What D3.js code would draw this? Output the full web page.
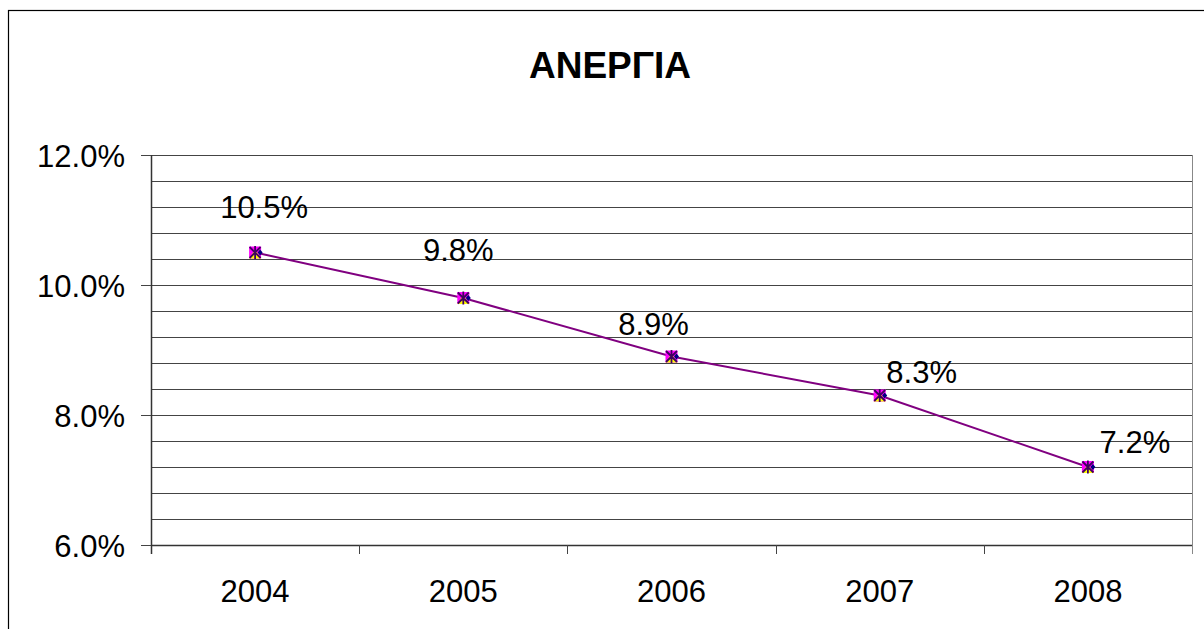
<!DOCTYPE html>
<html>
<head>
<meta charset="utf-8">
<script src="https://cdn.jsdelivr.net/npm/d3@7"></script>
<style>
  body { margin: 0; background: #fff; }
  svg { display: block; font-family: "Liberation Sans", Arial, sans-serif; }
</style>
</head>
<body>
<svg id="chart" width="1204" height="629"></svg>
<script>
// data
var years = ["2004", "2005", "2006", "2007", "2008"];
var unemployment = [10.5, 9.8, 8.9, 8.3, 7.2];
var yTicks = [6, 8, 10, 12];
var chartTitle = "ΑΝΕΡΓΙΑ";

// hand placed data labels (dx, dy from the point), as in the original
var labelOffsets = [[9, -35], [-5, -37], [-18, -22], [42, -13], [47, -14]];

var svg = d3.select("#chart");
var margin = {top: 155, right: 12, bottom: 84, left: 151};
var width = 1204 - margin.left - margin.right;
var height = 629 - margin.top - margin.bottom;

// outer chart border (runs off the right and bottom of the picture)
svg.append("rect")
    .attr("x", 8.5).attr("y", 10.5)
    .attr("width", 1400).attr("height", 800)
    .attr("fill", "none").attr("stroke", "#000").attr("stroke-width", 1.2);

svg.append("text")
    .attr("x", 610).attr("y", 78)
    .attr("text-anchor", "middle")
    .attr("font-size", 37).attr("font-weight", "bold")
    .text(chartTitle);

var g = svg.append("g").attr("transform", "translate(" + margin.left + "," + margin.top + ")");

var x = d3.scaleBand().domain(years).range([0, width]);
var y = d3.scaleLinear().domain([6, 12]).range([height, 0]);

// gridlines every 0.4%
var gridVals = d3.range(0, 16).map(function(i){ return 6 + i * 0.4; });
g.selectAll(".grid")
    .data(gridVals)
    .enter().append("line")
    .attr("class", "grid")
    .attr("x1", 0).attr("x2", width)
    .attr("y1", function(d){ return Math.round(y(d)) + 0.5; })
    .attr("y2", function(d){ return Math.round(y(d)) + 0.5; })
    .attr("stroke", "#444").attr("stroke-width", 1);

// right edge of plot area
g.append("line")
    .attr("x1", width + 0.5).attr("x2", width + 0.5)
    .attr("y1", 0).attr("y2", height + 9)
    .attr("stroke", "#888");

// y axis
var yAxis = g.append("g")
    .call(d3.axisLeft(y)
        .tickValues(yTicks)
        .tickSize(10)
        .tickPadding(16)
        .tickFormat(function(d){ return d3.format(".1f")(d) + "%"; }));
yAxis.select(".domain").attr("d", "M0.5,0V" + (height + 9)).attr("stroke", "#333").attr("stroke-width", 1.5);
yAxis.selectAll(".tick line").attr("stroke", "#444");
yAxis.selectAll("text").attr("font-size", 31).attr("fill", "#000")
    .attr("font-family", "Liberation Sans, Arial, sans-serif").attr("dy", "0.36em");

// x axis, ticks between categories
var xAxis = g.append("g").attr("transform", "translate(0," + height + ")");
xAxis.append("line")
    .attr("x1", 0).attr("x2", width)
    .attr("y1", 0.5).attr("y2", 0.5)
    .attr("stroke", "#333").attr("stroke-width", 1.5);
xAxis.selectAll(".xtick")
    .data(years.slice(1))
    .enter().append("line")
    .attr("x1", function(d){ return Math.round(x(d)) + 0.5; })
    .attr("x2", function(d){ return Math.round(x(d)) + 0.5; })
    .attr("y1", 0).attr("y2", 9)
    .attr("stroke", "#444");
xAxis.selectAll(".xlabel")
    .data(years)
    .enter().append("text")
    .attr("x", function(d){ return x(d) + x.bandwidth() / 2; })
    .attr("y", 57)
    .attr("text-anchor", "middle")
    .attr("font-size", 31)
    .text(function(d){ return d; });

// series line
var pts = years.map(function(yr, i){ return {year: yr, value: unemployment[i]}; });
var line = d3.line()
    .x(function(d){ return x(d.year) + x.bandwidth() / 2; })
    .y(function(d){ return y(d.value); });

g.append("path")
    .datum(pts)
    .attr("d", line)
    .attr("fill", "none")
    .attr("stroke", "#800080")
    .attr("stroke-width", 2);

// overlapping markers: magenta square, yellow triangle, navy diamond, purple star
var mk = g.selectAll(".mk")
    .data(pts)
    .enter().append("g")
    .attr("transform", function(d){ return "translate(" + (x(d.year) + x.bandwidth() / 2) + "," + y(d.value) + ")"; });
mk.append("rect").attr("x", -6).attr("y", -6).attr("width", 12).attr("height", 12).attr("fill", "#ff00ff");
mk.append("path").attr("d", "M0,-3L6,6H-6Z").attr("fill", "#ffff00");
mk.append("path").attr("d", "M5,-3L7.5,0L5,3L2.5,0Z").attr("fill", "#000080");
mk.append("path").attr("d", "M-5.5,-5.5L5.5,5.5M5.5,-5.5L-5.5,5.5M0,-6.5V6.5")
    .attr("stroke", "#400060").attr("stroke-width", 1.8).attr("fill", "none");

// data labels
g.selectAll(".lbl")
    .data(pts)
    .enter().append("text")
    .attr("x", function(d, i){ return x(d.year) + x.bandwidth() / 2 + labelOffsets[i][0]; })
    .attr("y", function(d, i){ return y(d.value) + labelOffsets[i][1]; })
    .attr("text-anchor", "middle")
    .attr("font-size", 31)
    .text(function(d){ return d3.format(".1f")(d.value) + "%"; });
</script>
</body>
</html>
